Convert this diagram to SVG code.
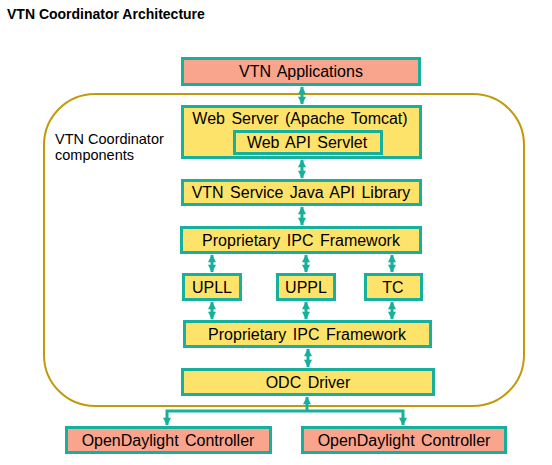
<svg xmlns="http://www.w3.org/2000/svg" width="552" height="465" viewBox="0 0 552 465">
<defs>
<style>
.t{font-family:"Liberation Sans",Arial,sans-serif;fill:#000;}
.b{font-size:16px;word-spacing:2px;}
.n{stroke:#17b09c;stroke-width:3;}
.y{fill:#fee36a;}
.s{fill:#f9a48c;}
.c{stroke:#17b09c;stroke-width:3;fill:none;}
</style>
<marker id="ah" viewBox="0 0 10 10" refX="9" refY="5" markerWidth="10" markerHeight="8" markerUnits="userSpaceOnUse" orient="auto-start-reverse">
<path d="M0,0 L10,5 L0,10 Z" fill="#17b09c"/>
</marker>
</defs>
<rect width="552" height="465" fill="#fff"/>
<text class="t" x="7" y="19" font-size="14" font-weight="bold">VTN Coordinator Architecture</text>

<g id="container">
<rect x="44" y="94" width="480" height="312" rx="51" ry="51" fill="none" stroke="#c09a08" stroke-width="2"/>
<text class="t" x="55" y="144" font-size="14.5">VTN Coordinator</text>
<text class="t" x="55" y="160" font-size="14.5">components</text>
</g>

<g id="connectors">
<line class="c" x1="302" y1="87" x2="302" y2="104" marker-start="url(#ah)" marker-end="url(#ah)"/>
<line class="c" x1="302" y1="160" x2="302" y2="178" marker-start="url(#ah)" marker-end="url(#ah)"/>
<line class="c" x1="302" y1="207" x2="302" y2="225" marker-start="url(#ah)" marker-end="url(#ah)"/>
<line class="c" x1="212" y1="255" x2="212" y2="272" marker-start="url(#ah)" marker-end="url(#ah)"/>
<line class="c" x1="306" y1="255" x2="306" y2="272" marker-start="url(#ah)" marker-end="url(#ah)"/>
<line class="c" x1="392" y1="255" x2="392" y2="272" marker-start="url(#ah)" marker-end="url(#ah)"/>
<line class="c" x1="212" y1="302" x2="212" y2="319" marker-start="url(#ah)" marker-end="url(#ah)"/>
<line class="c" x1="306" y1="302" x2="306" y2="319" marker-start="url(#ah)" marker-end="url(#ah)"/>
<line class="c" x1="392" y1="302" x2="392" y2="319" marker-start="url(#ah)" marker-end="url(#ah)"/>
<line class="c" x1="308" y1="349" x2="308" y2="367" marker-start="url(#ah)" marker-end="url(#ah)"/>
<line class="c" x1="307" y1="412" x2="307" y2="397" marker-end="url(#ah)"/>
<polyline class="c" points="167,425 167,411 403,411 403,425" marker-start="url(#ah)" marker-end="url(#ah)"/>
</g>

<g id="vtn-applications">
<rect class="n s" x="182.5" y="58.5" width="237" height="26"/>
<text class="t b" x="301" y="77" text-anchor="middle">VTN Applications</text>
</g>

<g id="web-server">
<rect class="n y" x="182.5" y="106.5" width="238" height="51"/>
<text class="t b" x="300" y="124" text-anchor="middle">Web Server (Apache Tomcat)</text>
</g>

<g id="web-api-servlet">
<rect class="n y" x="234.5" y="131.5" width="147" height="22"/>
<text class="t b" x="307" y="148" text-anchor="middle">Web API Servlet</text>
</g>

<g id="vtn-service-lib">
<rect class="n y" x="182.5" y="180.5" width="238" height="24"/>
<text class="t b" x="301" y="198" text-anchor="middle">VTN Service Java API Library</text>
</g>

<g id="ipc-framework-1">
<rect class="n y" x="181.5" y="227.5" width="239" height="25"/>
<text class="t b" x="301" y="246" text-anchor="middle">Proprietary IPC Framework</text>
</g>

<g id="upll">
<rect class="n y" x="183.5" y="274.5" width="57" height="25"/>
<text class="t b" x="212" y="293" text-anchor="middle">UPLL</text>
</g>

<g id="uppl">
<rect class="n y" x="277.5" y="274.5" width="57" height="25"/>
<text class="t b" x="306" y="293" text-anchor="middle">UPPL</text>
</g>

<g id="tc">
<rect class="n y" x="365.5" y="274.5" width="56" height="25"/>
<text class="t b" x="393" y="293" text-anchor="middle">TC</text>
</g>

<g id="ipc-framework-2">
<rect class="n y" x="184.5" y="321.5" width="246" height="25"/>
<text class="t b" x="307" y="340" text-anchor="middle">Proprietary IPC Framework</text>
</g>

<g id="odc-driver">
<rect class="n y" x="182.5" y="369.5" width="251" height="25"/>
<text class="t b" x="308" y="388" text-anchor="middle">ODC Driver</text>
</g>

<g id="odl-controller-1">
<rect class="n s" x="66.5" y="427.5" width="204" height="25"/>
<text class="t b" x="168" y="446" text-anchor="middle">OpenDaylight Controller</text>
</g>

<g id="odl-controller-2">
<rect class="n s" x="302.5" y="427.5" width="203" height="25"/>
<text class="t b" x="404" y="446" text-anchor="middle">OpenDaylight Controller</text>
</g>
</svg>
